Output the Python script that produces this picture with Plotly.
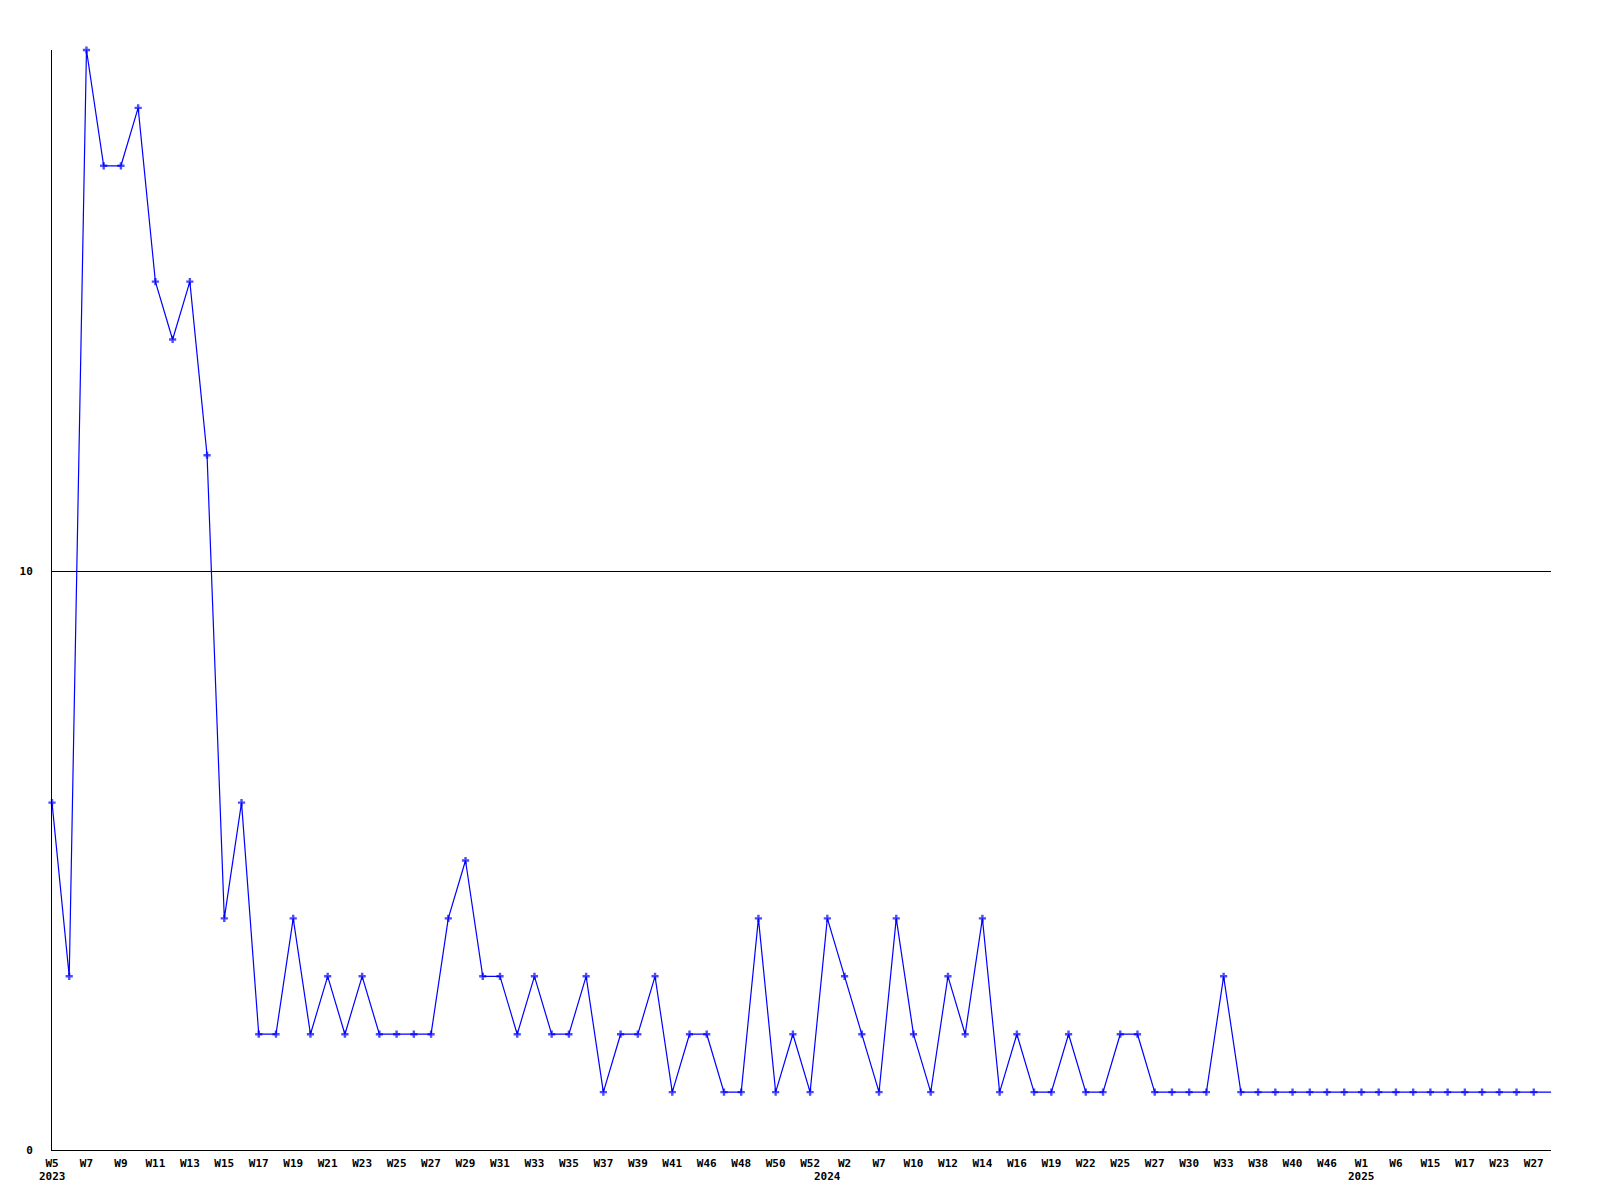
import plotly.graph_objects as go

# Week categories (year, week) in order of the x axis
years = [2023]*45 + [2024]*31 + [2025]*12
weeks = [5, 6, 7, 8, 9, 10, 11, 12, 13, 14, 15, 16, 17, 18, 19, 20, 21, 22, 23, 24,
         25, 26, 27, 28, 29, 30, 31, 32, 33, 34, 35, 36, 37, 38, 39, 40, 41, 43, 46, 47,
         48, 49, 50, 51, 52,
         1, 2, 4, 7, 8, 10, 11, 12, 13, 14, 15, 16, 17, 19, 20, 22, 23, 25, 26, 27,
         28, 30, 31, 33, 35, 38, 39, 40, 43, 46, 49,
         1, 3, 6, 10, 15, 16, 17, 20, 23, 25, 27, 28]
values = [6, 3, 19, 17, 17, 18, 15, 14, 15, 12, 4, 6, 2, 2, 4, 2, 3, 2, 3, 2,
          2, 2, 2, 4, 5, 3, 3, 2, 3, 2, 2, 3, 1, 2, 2, 3, 1, 2, 2, 1,
          1, 4, 1, 2, 1,
          4, 3, 2, 1, 4, 2, 1, 3, 2, 4, 1, 2, 1, 1, 2, 1, 1, 2, 2, 1,
          1, 1, 1, 3, 1, 1, 1, 1, 1, 1, 1,
          1, 1, 1, 1, 1, 1, 1, 1, 1, 1, 1, 1]
year_labels = ["2023", "2024", "2025"]
y_ticks = [0, 10]

cats = [f"{y}-W{w}" for y, w in zip(years, weeks)]
tick_idx = list(range(0, len(cats) - 1, 2))
tickvals = [cats[i] for i in tick_idx]
ticktext = [f"W{weeks[i]}" for i in tick_idx]

font = dict(family="DejaVu Sans Mono", size=11, color="black", weight="bold")

marker_sizes = [6] * (len(values) - 1) + [0]

fig = go.Figure()
fig.add_trace(go.Scatter(
    x=cats, y=values, mode="lines+markers",
    line=dict(color="#0000FF", width=1.2),
    marker=dict(symbol="cross", size=marker_sizes, color="#0000FF",
                line=dict(color="#0000FF", width=0)),
    cliponaxis=False, showlegend=False,
))

annotations = []
for yl in year_labels:
    first = next(c for c in cats if c.startswith(yl))
    annotations.append(dict(x=first, y=-0.0245, xref="x", yref="paper",
                            text=yl, showarrow=False, font=font,
                            xanchor="center", yanchor="middle"))

fig.update_layout(
    width=1592, height=1192,
    margin=dict(l=42, r=49, t=42, b=50),
    paper_bgcolor="white", plot_bgcolor="white",
    font=font,
    annotations=annotations,
    xaxis=dict(type="category", categoryorder="array", categoryarray=cats,
               range=[0, len(cats) - 1],
               tickmode="array", tickvals=tickvals, ticktext=ticktext,
               showgrid=False, zeroline=False,
               showline=True, linecolor="black", linewidth=1,
               ticks="", ticklabelstandoff=3, tickfont=font),
    yaxis=dict(range=[0, 19], tickmode="array", tickvals=y_ticks,
               showgrid=True, gridcolor="black", gridwidth=1,
               zeroline=False, showline=True, linecolor="black", linewidth=1,
               ticks="", ticklabelstandoff=16, tickfont=font),
)

fig.write_html("out.html")
